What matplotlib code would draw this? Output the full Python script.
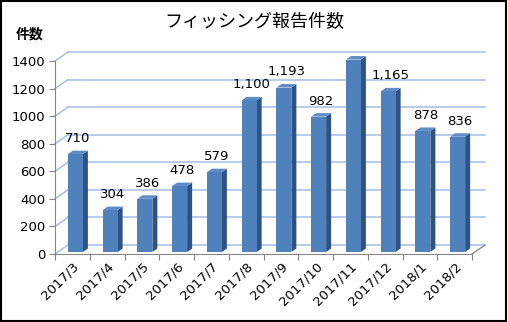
import matplotlib
matplotlib.use("Agg")
import matplotlib.pyplot as plt
from matplotlib.patches import Polygon, Rectangle

plt.rcParams['font.family'] = ['Noto Sans CJK JP', 'DejaVu Sans']

categories = ["2017/3", "2017/4", "2017/5", "2017/6", "2017/7", "2017/8",
              "2017/9", "2017/10", "2017/11", "2017/12", "2018/1", "2018/2"]
values = [710, 304, 386, 478, 579, 1100, 1193, 982, 1396, 1165, 878, 836]
yticks = [0, 200, 400, 600, 800, 1000, 1200, 1400]
title = "フィッシング報告件数"
ylabel = "件数"

W, H = 508, 322
fig = plt.figure(figsize=(W / 100, H / 100), dpi=100)
L, R, B, T = 55, 472, 254, 61  # pixel positions of front axes
ax = fig.add_axes([L / W, 1 - B / H, (R - L) / W, (B - T) / H])
n = len(categories)
ax.set_xlim(0, n)
ax.set_ylim(0, 1400)

px_x = n / (R - L)        # data units per pixel (x)
px_y = 1400 / (B - T)     # data units per pixel (y)

grid_c = "#A4BFE4"
axis_c = "#868686"
WDX, WDY = 13 * px_x, 9 * px_y  # wall depth

# back wall gridlines and diagonal connectors
for v in yticks:
    ax.plot([WDX, n + WDX], [v + WDY, v + WDY], color=grid_c, lw=1.1, clip_on=False, zorder=1)
    ax.plot([0, WDX], [v, v + WDY], color=grid_c, lw=1.1, clip_on=False, zorder=1)
# floor right edge
ax.plot([n, n + WDX], [0, WDY], color=axis_c, lw=1, clip_on=False, zorder=1)

# bars
bw = 15 * px_x
fdx, fdy = 3 * px_x, 2 * px_y     # front face offset
sdx, sdy = 5 * px_x, 3.5 * px_y   # bar depth
front_c = "#4F81BD"
side_c = "#2F5281"
top_c = "#5F8DC8"
for i, v in enumerate(values):
    x0 = i + 0.5 - bw / 2 + fdx
    x1 = x0 + bw
    y0 = fdy
    y1 = v + fdy
    ax.add_patch(Polygon([[x1, y0], [x1 + sdx, y0 + sdy], [x1 + sdx, y1 + sdy], [x1, y1]],
                         closed=True, facecolor=side_c, edgecolor="none", zorder=3, clip_on=False))
    ax.add_patch(Polygon([[x0, y1], [x1, y1], [x1 + sdx, y1 + sdy], [x0 + sdx, y1 + sdy]],
                         closed=True, facecolor=top_c, edgecolor="none", zorder=3, clip_on=False))
    ax.add_patch(Rectangle((x0, y0), bw, v, facecolor=front_c, edgecolor="none", zorder=4, clip_on=False))
    ax.annotate(f"{v:,}", xy=(i + 0.5 + fdx + sdx / 2, y1 + sdy), xytext=(0, 4),
                textcoords="offset points", ha="center", va="bottom", fontsize=9.5,
                family=['DejaVu Sans'], color="black", zorder=5)

# axes styling
for s in ["top", "right"]:
    ax.spines[s].set_visible(False)
ax.spines["left"].set_color(axis_c)
ax.spines["bottom"].set_color(axis_c)
ax.set_yticks(yticks)
ax.set_yticklabels([str(v) for v in yticks], fontsize=9.5, family=['DejaVu Sans'])
ax.set_xticks(range(n + 1))
ax.set_xticklabels([])
ax.set_xticks([i + 0.5 for i in range(n)], minor=True)
ax.set_xticklabels(categories, minor=True, rotation=45, ha="right", va="top",
                   rotation_mode="anchor", fontsize=9.5, family=['DejaVu Sans'])
ax.tick_params(axis="x", which="major", length=4, color=axis_c)
ax.tick_params(axis="x", which="minor", length=0, pad=4)
ax.tick_params(axis="y", length=4, color=axis_c, pad=3)
ax.patch.set_visible(False)

fig.text(254 / W, 1 - 22 / H, title, ha="center", va="center", fontsize=13)
fig.text(30 / W, 1 - 35 / H, ylabel, ha="center", va="center", fontsize=10, fontweight="bold")

fig.patches.append(Rectangle((0.002, 0.003), 0.995, 0.994, transform=fig.transFigure,
                             fill=False, edgecolor="black", lw=1.5))

fig.savefig("out.png", dpi=100)
